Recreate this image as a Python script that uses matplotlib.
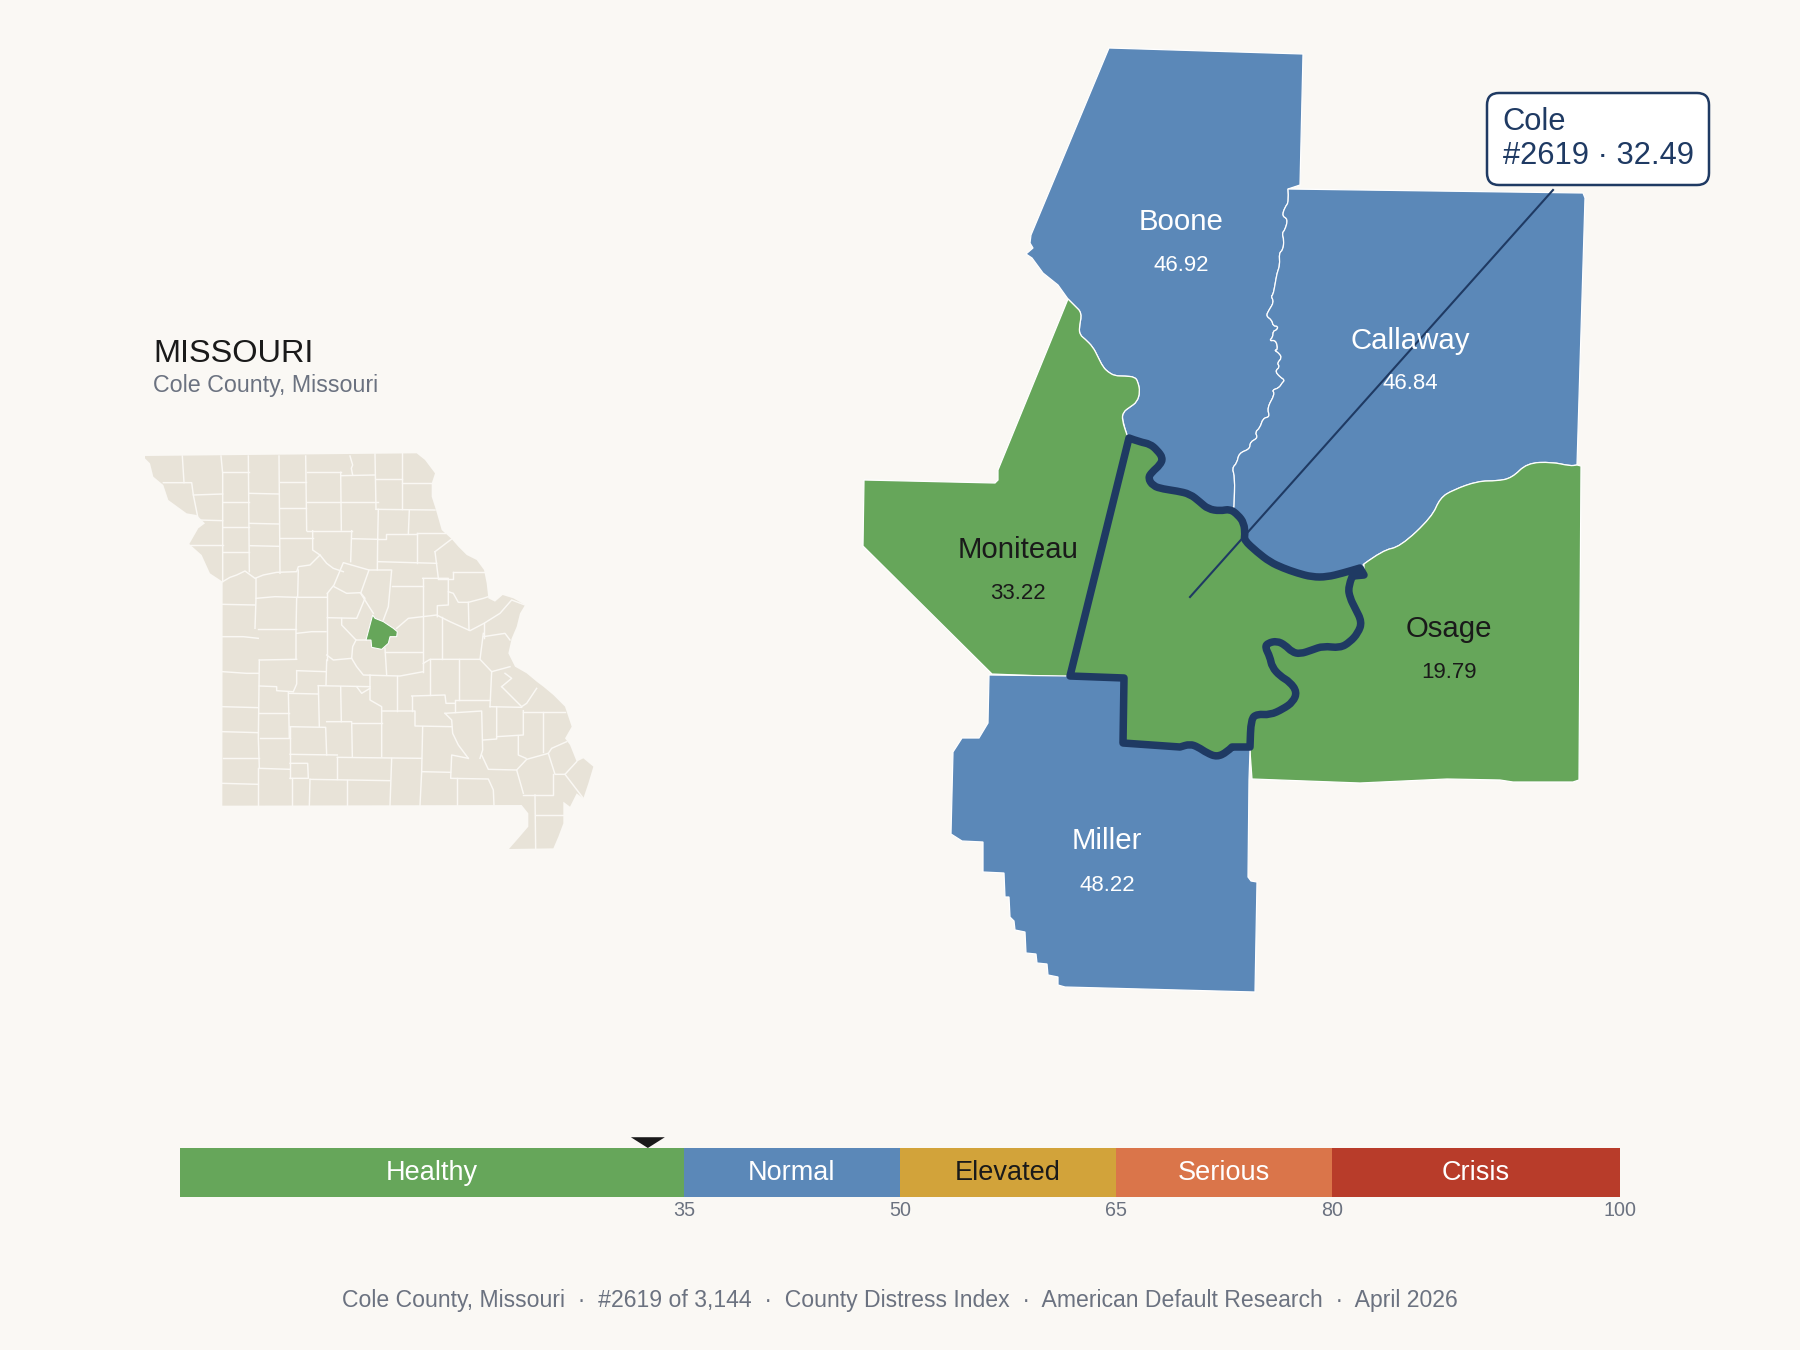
import matplotlib
matplotlib.use('Agg')
import matplotlib.pyplot as plt
from matplotlib.patches import FancyBboxPatch, PathPatch, Polygon
from matplotlib.path import Path

plt.rcParams['font.family'] = ['Liberation Sans', 'DejaVu Sans']

BG = '#faf8f4'
GREEN = '#66a65a'
BLUE = '#5b88b8'
NAVY = '#1f3a63'
INK = '#1a1a1a'
GRAY = '#6b7280'
LAND = '#e8e3d8'

# county map outlines (x, y in image pixels)
boone_top = [(1109, 48), (1303, 54), (1300, 185), (1288, 189)]
boone_callaway = [(1288, 189), (1289, 202), (1285, 207), (1282, 216), (1288, 219), (1285, 230),
                  (1282, 233), (1284, 240), (1283, 250), (1279, 253), (1280, 265), (1277, 273),
                  (1275, 285), (1273, 295), (1271, 296), (1274, 302), (1269, 310), (1266, 316),
                  (1272, 320), (1273, 326), (1278, 326), (1277, 330), (1273, 331), (1273, 337),
                  (1269, 341), (1276, 340), (1278, 350), (1274, 350), (1279, 353), (1282, 358),
                  (1277, 363), (1280, 367), (1275, 371), (1280, 377), (1285, 380), (1282, 383),
                  (1279, 388), (1272, 390), (1275, 394), (1267, 408), (1270, 417), (1263, 418),
                  (1260, 428), (1255, 432), (1258, 438), (1250, 442), (1250, 449), (1239, 453),
                  (1237, 463), (1232, 468), (1235, 477), (1234, 507)]
boone_west = [(1068, 299), (1058, 285), (1043, 273), (1032, 258), (1026, 254), (1033, 248),
              (1030, 243), (1031, 235)]
boone_moniteau = [(1127, 435), (1122, 420), (1123, 412), (1130, 407), (1137, 402), (1140, 392),
                  (1138, 382), (1135, 377), (1125, 376), (1115, 376), (1108, 372), (1103, 367),
                  (1098, 357), (1093, 347), (1085, 339), (1080, 335), (1079, 328), (1082, 313),
                  (1075, 306), (1068, 299)]
moniteau_west = [(998, 470), (998, 480), (995, 483), (864, 480), (863, 546), (992, 674), (1068, 677)]
callaway_east = [(1577, 465), (1585, 198), (1583, 193), (1288, 189)]
callaway_osage = [(1364, 564), (1383, 550), (1400, 547), (1432, 517), (1440, 498), (1453, 490),
                  (1478, 481), (1497, 481), (1512, 478), (1527, 463), (1552, 462), (1570, 466),
                  (1577, 465)]
osage_east = [(1581, 466), (1579, 780), (1573, 782), (1513, 782), (1500, 780), (1447, 779),
              (1360, 783), (1252, 779), (1250, 751)]
miller_outer = [(1249, 780), (1248, 877), (1251, 881), (1257, 882), (1255, 992), (1065, 987),
                (1058, 985), (1058, 977), (1048, 975), (1047, 964), (1037, 963), (1036, 954),
                (1026, 953), (1025, 932), (1015, 930), (1014, 921), (1010, 917), (1009, 897),
                (1005, 897), (1004, 873), (983, 872), (983, 842), (962, 841), (951, 834),
                (953, 752), (962, 738), (979, 738), (988, 723), (989, 675)]
cole_north = [(1129, 438), (1140, 442), (1150, 444), (1157, 450), (1163, 458), (1160, 465),
              (1152, 472), (1148, 478), (1153, 486), (1163, 489), (1177, 491), (1190, 494),
              (1200, 502), (1208, 509), (1220, 511), (1230, 509), (1238, 515), (1244, 523),
              (1245, 535)]
cole_callaway = [(1244, 540), (1257, 552), (1270, 562), (1283, 568), (1297, 573), (1312, 577),
                 (1327, 577), (1343, 573), (1360, 568)]
cole_tip = [(1364, 575), (1353, 576)]
cole_osage = [(1352, 577), (1348, 587), (1350, 598), (1355, 608), (1362, 622), (1358, 633),
              (1350, 642), (1340, 648), (1323, 646), (1312, 650), (1300, 654), (1292, 652),
              (1285, 645), (1277, 641), (1268, 643), (1265, 647), (1270, 657), (1272, 667),
              (1280, 676), (1290, 682), (1297, 692), (1293, 702), (1283, 709), (1270, 715),
              (1257, 714), (1251, 719), (1250, 747)]
cole_miller = [(1232, 747), (1227, 752), (1217, 757), (1207, 753), (1198, 747), (1190, 744),
               (1180, 747), (1123, 743), (1124, 678), (1070, 676)]

boone_poly = boone_top + boone_callaway + cole_north[:16][::-1] + boone_moniteau + boone_west
callaway_poly = boone_callaway + cole_north[15:] + cole_callaway + callaway_osage + callaway_east
moniteau_poly = boone_moniteau[::-1] + [(1129, 438), (1070, 676)] + moniteau_west[::-1]
osage_poly = callaway_osage + osage_east + cole_osage[::-1] + cole_tip[::-1]
miller_poly = [(989, 675)] + cole_miller[::-1] + [(1250, 747), (1250, 751)] + miller_outer
cole_poly = cole_north + cole_callaway + cole_tip + cole_osage + cole_miller

# vertices on rivers, drawn as curves rather than corners
curved = set(boone_callaway[1:-1] + boone_moniteau[1:-1] + callaway_osage[1:-1] + cole_north[1:]
             + cole_callaway[:-1] + cole_osage[1:-1] + cole_miller[1:6])

county_names = ['Boone', 'Callaway', 'Moniteau', 'Osage', 'Miller']
county_scores = ['46.92', '46.84', '33.22', '19.79', '48.22']
county_polys = [boone_poly, callaway_poly, moniteau_poly, osage_poly, miller_poly]
county_colors = [BLUE, BLUE, GREEN, GREEN, BLUE]
county_text_colors = ['white', 'white', INK, INK, 'white']
county_label_xy = [(1181, 230, 271), (1410, 349, 389), (1018, 558, 599), (1449, 637, 678), (1107, 849, 891)]

# state inset (zoomed crop coordinates)
state_outline = [(45, 48), (860, 40), (885, 60), (915, 100), (905, 130), (905, 170), (918, 210), (935, 270),
                 (965, 297), (985, 320), (1010, 345), (1040, 360), (1062, 390), (1070, 430), (1075, 475),
                 (1095, 485), (1118, 465), (1150, 475), (1185, 495), (1170, 520), (1160, 560), (1145, 595),
                 (1135, 640), (1155, 680), (1190, 700), (1220, 725), (1240, 740), (1270, 765), (1305, 800),
                 (1325, 860), (1305, 895), (1320, 915), (1340, 965), (1360, 955), (1390, 980), (1375, 1030),
                 (1360, 1075), (1340, 1060), (1320, 1100), (1300, 1085), (1300, 1125), (1300, 1150),
                 (1285, 1190), (1270, 1225), (1137, 1227), (1165, 1195), (1195, 1160), (1195, 1120),
                 (1175, 1095), (277, 1097), (278, 425), (240, 400), (215, 345), (178, 312), (205, 265),
                 (225, 250), (200, 225), (170, 220), (115, 180), (100, 135), (70, 110), (60, 70), (45, 55)]
state_cole = [(728, 525), (735, 535), (760, 545), (790, 565), (802, 575), (800, 590), (780, 590),
              (775, 610), (755, 628), (725, 622), (723, 600), (708, 600)]
state_lines = [
    [(157, 48), (162, 128)], [(100, 128), (185, 128), (190, 165), (278, 162)],
    [(190, 165), (205, 240), (278, 242)], [(178, 316), (278, 316)],
    [(273, 48), (278, 100), (278, 425)], [(278, 97), (357, 97)], [(355, 48), (358, 395)],
    [(278, 187), (358, 187)], [(280, 262), (358, 262)], [(280, 335), (358, 335)],
    [(358, 160), (448, 162)], [(358, 250), (448, 252)], [(360, 317), (448, 319)],
    [(447, 48), (450, 400)], [(450, 127), (528, 127)], [(450, 205), (528, 205)], [(450, 295), (548, 295)],
    [(527, 48), (530, 272)], [(530, 97), (632, 97)], [(530, 187), (745, 187)], [(530, 272), (665, 272)],
    [(632, 97), (634, 270)], [(632, 107), (735, 105)],
    [(660, 48), (668, 75), (664, 85), (668, 105)], [(735, 42), (738, 208)], [(738, 118), (815, 118)],
    [(815, 40), (815, 208)], [(815, 130), (905, 130)], [(738, 208), (915, 210)],
    [(745, 208), (743, 300), (742, 390)], [(838, 210), (835, 283)],
    [(745, 298), (768, 298), (768, 283), (862, 283)], [(665, 272), (662, 365)], [(665, 296), (745, 298)],
    [(862, 278), (862, 370)], [(862, 278), (945, 278)], [(745, 365), (920, 370)],
    [(915, 335), (965, 297)], [(915, 335), (925, 415)],
    [(278, 425), (300, 412), (320, 405), (345, 393), (375, 415), (400, 405), (440, 397), (500, 395),
     (505, 380), (540, 375), (570, 345), (590, 370), (610, 385), (640, 395)],
    [(548, 272), (548, 330), (570, 345)], [(505, 390), (503, 470)], [(378, 415), (378, 475), (375, 565)],
    [(278, 493), (375, 495)], [(378, 475), (435, 470), (500, 472), (590, 472)],
    [(500, 472), (498, 575), (498, 655)], [(385, 567), (498, 567)],
    [(592, 460), (612, 435), (640, 368), (717, 390), (692, 460)], [(592, 460), (592, 660)],
    [(612, 440), (650, 460), (692, 458), (705, 475), (680, 535), (592, 533)],
    [(717, 390), (785, 390), (775, 500), (760, 540)], [(692, 460), (730, 520)],
    [(785, 437), (878, 437)], [(878, 415), (878, 670)],
    [(878, 415), (955, 415), (955, 495), (922, 497), (922, 530)],
    [(970, 395), (1062, 395)], [(970, 395), (970, 418), (925, 418)],
    [(955, 455), (970, 460), (985, 487), (1015, 487), (1060, 475), (1075, 470)], [(1015, 487), (1017, 570)],
    [(800, 565), (835, 535), (878, 530), (920, 525), (960, 545), (1020, 572), (1062, 550), (1110, 520),
     (1145, 480), (1185, 495)],
    [(1062, 550), (1062, 595)], [(1060, 590), (1125, 580), (1140, 600)],
    [(635, 535), (635, 555), (678, 600), (708, 600)],
    [(590, 645), (610, 660), (665, 655), (680, 680), (700, 705), (770, 707), (810, 708), (880, 695)],
    [(665, 655), (668, 620), (678, 600)], [(765, 625), (770, 705)], [(765, 635), (875, 635)],
    [(880, 670), (880, 695)], [(880, 670), (900, 658), (1050, 658)], [(935, 530), (935, 658)],
    [(1060, 580), (1050, 658), (1085, 695), (1140, 680)], [(900, 658), (900, 765)], [(988, 658), (988, 780)],
    [(1085, 695), (1080, 800)], [(1115, 740), (1145, 715), (1125, 700)],
    [(1115, 740), (1175, 800), (1190, 790), (1220, 745)], [(1080, 800), (1175, 802)],
    [(978, 780), (1080, 780)], [(975, 780), (975, 815)], [(845, 768), (945, 765), (948, 790), (975, 790)],
    [(845, 768), (845, 813)], [(755, 813), (855, 813), (855, 858), (965, 860)],
    [(720, 705), (720, 780), (755, 800), (755, 950)], [(800, 708), (800, 813)],
    [(945, 820), (1055, 813), (1058, 930), (1050, 955)],
    [(945, 820), (965, 840), (968, 880), (985, 915), (1015, 955)],
    [(1100, 800), (1100, 897), (1060, 900)], [(1180, 812), (1180, 885), (1100, 890)],
    [(1180, 815), (1305, 815)], [(1238, 815), (1238, 935)], [(1165, 890), (1165, 945), (1188, 955)],
    [(1310, 905), (1265, 925), (1255, 940), (1190, 958), (1160, 990), (1180, 1060)],
    [(1255, 940), (1275, 1003), (1305, 1003), (1340, 965)], [(1305, 1003), (1360, 1075)],
    [(1270, 1003), (1270, 1065), (1180, 1065)], [(1215, 1065), (1217, 1225)], [(1217, 1125), (1300, 1125)],
    [(1160, 990), (1075, 988), (1055, 945)],
    [(1015, 955), (965, 945), (962, 1015), (1075, 1017), (1090, 1050), (1092, 1097)],
    [(982, 1015), (982, 1097)], [(878, 860), (875, 995), (962, 997)], [(875, 995), (870, 1097)],
    [(785, 955), (780, 1097)], [(622, 952), (875, 955)], [(622, 952), (622, 1018)], [(480, 943), (622, 945)],
    [(480, 860), (480, 1015)], [(480, 860), (587, 862), (590, 945)], [(590, 845), (665, 845), (667, 950)],
    [(665, 848), (755, 848)], [(565, 737), (720, 740)], [(565, 737), (568, 860)], [(632, 740), (634, 845)],
    [(680, 740), (695, 760), (720, 745)], [(590, 660), (588, 735)], [(500, 692), (588, 695)],
    [(490, 755), (500, 732), (500, 692)], [(488, 755), (440, 752), (440, 740), (388, 738)],
    [(475, 755), (478, 895)], [(478, 760), (565, 762)], [(388, 660), (500, 658)],
    [(388, 660), (385, 895), (388, 985)], [(278, 590), (340, 590), (385, 595)], [(278, 695), (350, 700), (385, 700)],
    [(278, 800), (385, 803)], [(278, 875), (385, 878)], [(278, 955), (388, 955)], [(278, 1030), (385, 1033)],
    [(388, 820), (478, 820)], [(390, 895), (480, 895)], [(388, 985), (480, 988)], [(385, 985), (385, 1097)],
    [(485, 1015), (485, 1097)], [(480, 970), (533, 970), (535, 1015), (480, 1015)],
    [(540, 1018), (538, 1097)], [(540, 1018), (780, 1022)], [(650, 1020), (650, 1097)],
    [(588, 575), (545, 575), (500, 580)],
]

# distress scale
band_names = ['Healthy', 'Normal', 'Elevated', 'Serious', 'Crisis']
band_edges = [0, 35, 50, 65, 80, 100]
band_colors = [GREEN, BLUE, '#d2a33a', '#da754a', '#b83c2a']
band_text_colors = ['white', 'white', INK, 'white', 'white']
cole_score = 32.49

footer = 'Cole County, Missouri  ·  #2619 of 3,144  ·  County Distress Index  ·  American Default Research  ·  April 2026'


def river_path(points):
    # corners stay sharp, vertices on a river become quadratic curves
    verts = [points[0]]
    codes = [Path.MOVETO]
    for i in range(1, len(points)):
        p = points[i]
        if p in curved and i < len(points) - 1:
            nxt = points[i + 1]
            verts += [p, ((p[0] + nxt[0]) / 2, (p[1] + nxt[1]) / 2)]
            codes += [Path.CURVE3, Path.CURVE3]
        else:
            verts.append(p)
            codes.append(Path.LINETO)
    verts.append(points[0])
    codes.append(Path.CLOSEPOLY)
    return Path(verts, codes)


fig = plt.figure(figsize=(12, 9), dpi=150, facecolor=BG)

# main map, axes in image pixels
ax = fig.add_axes([0, 0, 1, 1])
ax.set_xlim(0, 1800)
ax.set_ylim(1350, 0)
ax.axis('off')

for poly, color in zip(county_polys, county_colors):
    ax.add_patch(PathPatch(river_path(poly), facecolor=color, edgecolor='white', linewidth=0.6, zorder=2))
ax.add_patch(PathPatch(river_path(cole_poly), facecolor=GREEN, edgecolor=NAVY, linewidth=3.6,
                       joinstyle='round', zorder=3))

ax.plot([1190, 1553], [597, 190], color=NAVY, linewidth=1.0, zorder=4)

for name, score, (x, y1, y2), tc in zip(county_names, county_scores, county_label_xy, county_text_colors):
    ax.text(x, y1, name, ha='center', va='baseline', fontsize=14.1, color=tc, zorder=5)
    ax.text(x, y2, score, ha='center', va='baseline', fontsize=10.7, color=tc, zorder=5)

ax.add_patch(FancyBboxPatch((1497, 103), 202, 72, boxstyle='round,pad=10,rounding_size=12',
                            facecolor='white', edgecolor=NAVY, linewidth=1.2, zorder=6))
ax.text(1502, 130, 'Cole', ha='left', va='baseline', fontsize=14.8, color=NAVY, zorder=7)
ax.text(1503, 164, '#2619 · 32.49', ha='left', va='baseline', fontsize=14.8, color=NAVY, zorder=7)

ax.text(153, 362, 'MISSOURI', ha='left', va='baseline', fontsize=15.6, color=INK)
ax.text(153, 392, 'Cole County, Missouri', ha='left', va='baseline', fontsize=11.15, color=GRAY)
ax.text(900, 1307, footer, ha='center', va='baseline', fontsize=11.03, color=GRAY)

# state inset
inset = fig.add_axes([130 / 1800, 1 - 860 / 1350, 480 / 1800, 420 / 1350])
inset.set_xlim(0, 1440)
inset.set_ylim(1260, 0)
inset.axis('off')
inset.add_patch(Polygon(state_outline, closed=True, facecolor=LAND, edgecolor='none'))
for line in state_lines:
    xs, ys = zip(*line)
    inset.plot(xs, ys, color='#faf8f4', linewidth=0.7, solid_joinstyle='round')
inset.add_patch(Polygon(state_cole, closed=True, facecolor=GREEN, edgecolor='white', linewidth=0.5, zorder=5))

# scale bar
bar = fig.add_axes([180 / 1800, 1 - 1197 / 1350, 1440 / 1800, 49 / 1350])
bar.set_xlim(0, 100)
bar.set_ylim(0, 1)
for i, name in enumerate(band_names):
    left, right = band_edges[i], band_edges[i + 1]
    bar.barh(0.5, right - left, left=left, height=1, color=band_colors[i])
    bar.text((left + right) / 2, 0.55, name, ha='center', va='center_baseline', fontsize=13.0,
             color=band_text_colors[i])
bar.add_patch(Polygon([(cole_score - 1.18, 1.22), (cole_score + 1.18, 1.22), (cole_score, 1.0)],
                      closed=True, facecolor=INK, edgecolor='none', clip_on=False))
bar.set_xticks(band_edges[1:])
bar.set_xticklabels([str(e) for e in band_edges[1:]], fontsize=9.5, color=GRAY)
bar.tick_params(axis='x', length=0, pad=2.1)
bar.set_yticks([])
for spine in bar.spines.values():
    spine.set_visible(False)

fig.savefig('out.png', dpi=150, facecolor=BG)
